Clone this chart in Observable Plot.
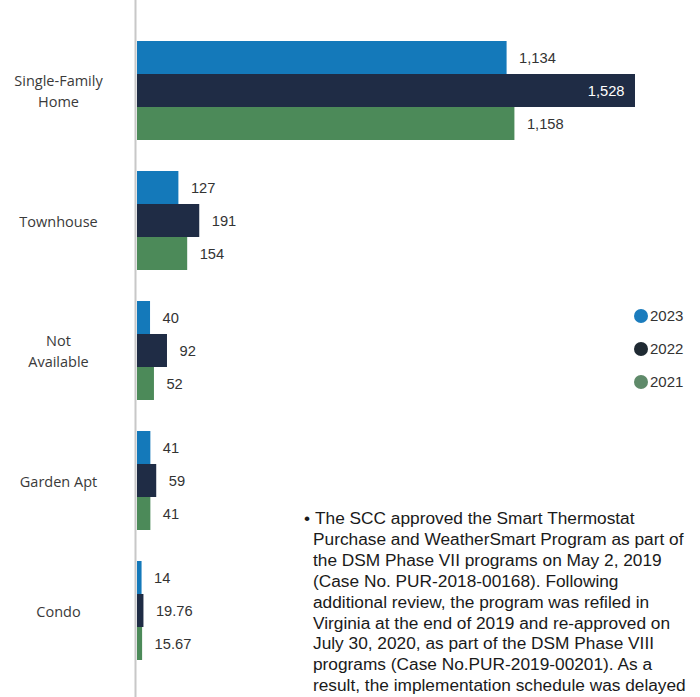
<!DOCTYPE html>
<html>
<head>
<meta charset="utf-8">
<script src="https://cdn.jsdelivr.net/npm/d3@7"></script>
<script src="https://cdn.jsdelivr.net/npm/@observablehq/plot@0.6"></script>
<style>
  html, body { margin: 0; padding: 0; background: #fff; }
  #wrap { position: relative; width: 700px; height: 697px; overflow: hidden; }
  #legend { position: absolute; left: 634px; top: 299px; font-family: "Liberation Sans", Arial, sans-serif; font-size: 15px; color: #333; }
  #legend .item { display: flex; align-items: center; height: 33px; }
  #legend .dot { width: 14px; height: 14px; border-radius: 50%; margin-right: 2px; }
  #note { position: absolute; left: 313px; top: 508px; font-family: "Liberation Sans", Arial, sans-serif; font-size: 17.3px; line-height: 20.9px; color: #1a1a1a; white-space: nowrap; }
  #note .first { position: relative; padding-left: 2px; }
  #note .bullet { position: absolute; left: -9px; top: 0; }
</style>
</head>
<body>
<div id="wrap"></div>
<script>
const categories = ["Single-Family Home", "Townhouse", "Not Available", "Garden Apt", "Condo"];
const years = ["2023", "2022", "2021"];
const values2023 = [1134, 127, 40, 41, 14];
const values2022 = [1528, 191, 92, 59, 19.76];
const values2021 = [1158, 154, 52, 41, 15.67];
const colors = ["#1479ba", "#1f2c45", "#4c8a59"];
const legendColors = ["#1b7cbd", "#1f2a33", "#5f8a6a"];
const noteLines = [
  "The SCC approved the Smart Thermostat",
  "Purchase and WeatherSmart Program as part of",
  "the DSM Phase VII programs on May 2, 2019",
  "(Case No. PUR-2018-00168). Following",
  "additional review, the program was refiled in",
  "Virginia at the end of 2019 and re-approved on",
  "July 30, 2020, as part of the DSM Phase VIII",
  "programs (Case No.PUR-2019-00201). As a",
  "result, the implementation schedule was delayed"
];

const series = [values2023, values2022, values2021];
const data = [];
categories.forEach((c, i) => {
  years.forEach((y, j) => data.push({category: c, year: y, value: series[j][i]}));
});
const maxV = d3.max(data, d => d.value);
const fmt = v => v >= 1000 ? d3.format(",")(v) : String(v);
const labelName = c => c === "Single-Family Home" ? "Single-Family\nHome" : c === "Not Available" ? "Not\nAvailable" : c;

const chart = Plot.plot({
  width: 700,
  height: 697,
  marginLeft: 137,
  marginRight: 65,
  marginTop: 40,
  marginBottom: 36,
  style: {fontFamily: "\"Liberation Sans\", Arial, sans-serif", background: "#fff"},
  x: {domain: [0, maxV], axis: null},
  y: {domain: years, axis: null, padding: 0},
  fy: {domain: categories, paddingInner: 0.223, paddingOuter: 0, round: false},
  color: {domain: years, range: colors},
  marks: [
    Plot.frame({facet: "super", anchor: "left", stroke: "#c8c8c8", strokeWidth: 2, dx: -2, insetTop: -40, insetBottom: -36}),
    Plot.barX(data, {fy: "category", y: "year", x: "value", fill: "year"}),
    Plot.text(data.filter(d => d.value !== maxV), {fy: "category", y: "year", x: "value", text: d => fmt(d.value), textAnchor: "start", dx: 12, fontSize: 14.7, fill: "#333"}),
    Plot.text(data.filter(d => d.value === maxV), {fy: "category", y: "year", x: "value", text: d => fmt(d.value), textAnchor: "end", dx: -11, fontSize: 14.7, fill: "#fff"}),
    Plot.axisFy({anchor: "left", tickSize: 0, tickPadding: 79, textAnchor: "middle", tickFormat: labelName, fontSize: 14.5, lineHeight: 1.45, dy: -1, fill: "#3a3a3a", fontFamily: "\"Open Sans\", \"Noto Sans\", sans-serif", label: null})
  ]
});
const wrap = document.getElementById("wrap");
wrap.appendChild(chart);

const legend = document.createElement("div");
legend.id = "legend";
years.forEach((y, j) => {
  const item = document.createElement("div");
  item.className = "item";
  const dot = document.createElement("span");
  dot.className = "dot";
  dot.style.background = legendColors[j];
  const t = document.createElement("span");
  t.textContent = y;
  item.appendChild(dot); item.appendChild(t);
  legend.appendChild(item);
});
wrap.appendChild(legend);

const note = document.createElement("div");
note.id = "note";
noteLines.forEach((line, i) => {
  const d = document.createElement("div");
  if (i === 0) {
    d.className = "first";
    const b = document.createElement("span");
    b.className = "bullet";
    b.textContent = "\u2022";
    d.appendChild(b);
    d.appendChild(document.createTextNode(line));
  } else {
    d.textContent = line;
  }
  note.appendChild(d);
});
wrap.appendChild(note);
</script>
</body>
</html>
